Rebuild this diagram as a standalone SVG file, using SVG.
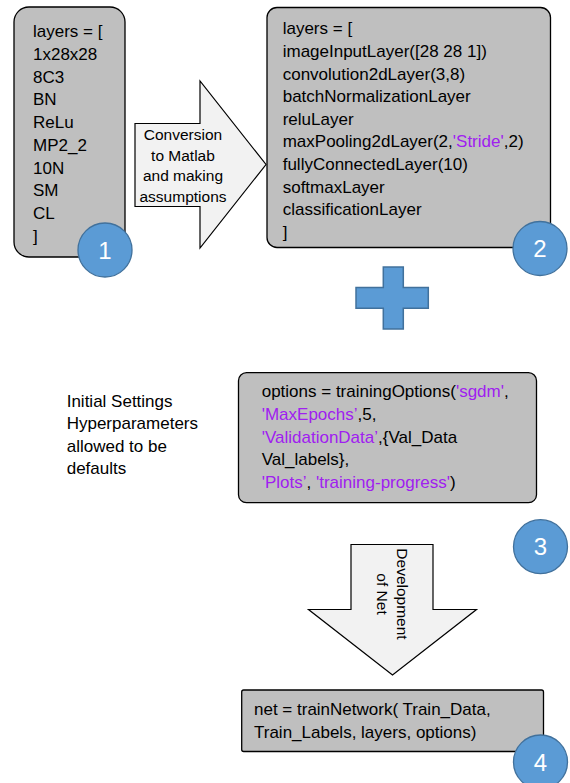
<svg xmlns="http://www.w3.org/2000/svg" width="570" height="783" viewBox="0 0 570 783">
<style>
.box{fill:#bfbfbf;stroke:#000;stroke-width:1.3}
.arrow{fill:#f2f2f2;stroke:#000;stroke-width:1.2}
.t{font-family:"Liberation Sans",Arial,sans-serif;font-size:17px;fill:#000}
.s{font-family:"Liberation Sans",Arial,sans-serif;font-size:15.5px;fill:#000}
.p{fill:#a020f0}
.badge{fill:#5b9bd5;stroke:#41719c;stroke-width:1.3}
.num{font-family:"Liberation Sans",Arial,sans-serif;font-size:24px;fill:#fff;text-anchor:middle}
.plus{fill:#5b9bd5;stroke:#41719c;stroke-width:1.5}
</style>
<rect width="570" height="783" fill="#fff"/>
<g id="connectors">
<path class="arrow" d="M135,123.5 L200,123.5 L200,81 L266,164.5 L200,248 L200,206.5 L135,206.5 Z"/>
<text class="s" text-anchor="middle"><tspan x="183" y="140">Conversion</tspan><tspan x="183" y="160.5">to Matlab</tspan><tspan x="183" y="181">and making</tspan><tspan x="183" y="201.5">assumptions</tspan></text>
<path class="arrow" d="M351,544.5 L433,544.5 L433,609.5 L476.5,609.5 L392.5,675 L308.5,609.5 L351,609.5 Z"/>
<text class="s" text-anchor="middle" transform="translate(397,594) rotate(90)">Development</text>
<text class="s" text-anchor="middle" transform="translate(376.5,594) rotate(90)">of Net</text>
</g>
<g id="node1">
<rect class="box" x="14" y="7" width="111" height="250" rx="15"/>
<text class="t"><tspan x="33" y="37.3">layers = [</tspan><tspan x="33" y="60">1x28x28</tspan><tspan x="33" y="82.7">8C3</tspan><tspan x="33" y="105.4">BN</tspan><tspan x="33" y="128.1">ReLu</tspan><tspan x="33" y="150.8">MP2_2</tspan><tspan x="33" y="173.5">10N</tspan><tspan x="33" y="196.2">SM</tspan><tspan x="33" y="218.9">CL</tspan><tspan x="33" y="241.6">]</tspan></text>
</g>
<g id="badge1">
<circle class="badge" cx="105" cy="250" r="27"/>
<text class="num" x="105" y="258.5">1</text>
</g>
<g id="node2">
<rect class="box" x="267" y="7.5" width="283.5" height="240" rx="10"/>
<text class="t"><tspan x="282.7" y="34.3">layers = [</tspan><tspan x="282.7" y="56.9">imageInputLayer([28 28 1])</tspan><tspan x="282.7" y="79.5">convolution2dLayer(3,8)</tspan><tspan x="282.7" y="102.1">batchNormalizationLayer</tspan><tspan x="282.7" y="124.7">reluLayer</tspan><tspan x="282.7" y="147.3">maxPooling2dLayer(2,<tspan class="p">'Stride'</tspan>,2)</tspan><tspan x="282.7" y="169.9">fullyConnectedLayer(10)</tspan><tspan x="282.7" y="192.5">softmaxLayer</tspan><tspan x="282.7" y="215.1">classificationLayer</tspan><tspan x="282.7" y="237.7">]</tspan></text>
</g>
<g id="badge2">
<circle class="badge" cx="540" cy="248.5" r="27"/>
<text class="num" x="540" y="257">2</text>
</g>
<g id="plus">
<path class="plus" d="M383.3,267 L403.3,267 L403.3,287.5 L428.3,287.5 L428.3,308.3 L403.3,308.3 L403.3,329 L383.3,329 L383.3,308.3 L356,308.3 L356,287.5 L383.3,287.5 Z"/>
</g>
<g id="settings">
<text class="t"><tspan x="66.7" y="406.7">Initial Settings</tspan><tspan x="66.7" y="429.2">Hyperparameters</tspan><tspan x="66.7" y="451.7">allowed to be</tspan><tspan x="66.7" y="474.2">defaults</tspan></text>
</g>
<g id="node3">
<rect class="box" x="238.5" y="372.7" width="298" height="130" rx="8"/>
<text class="t"><tspan x="261.7" y="397.3">options = trainingOptions(<tspan class="p">'sgdm'</tspan>,</tspan><tspan x="261.7" y="420"><tspan class="p">'MaxEpochs’</tspan>,5,</tspan><tspan x="261.7" y="442.7"><tspan class="p">'ValidationData’</tspan>,{Val_Data</tspan><tspan x="261.7" y="465.4">Val_labels},</tspan><tspan x="261.7" y="488.1"><tspan class="p">'Plots’</tspan>, <tspan class="p">'training-progress'</tspan>)</tspan></text>
</g>
<g id="badge3">
<circle class="badge" cx="540.5" cy="546.7" r="27"/>
<text class="num" x="540.5" y="555.2">3</text>
</g>
<g id="node4">
<rect class="box" x="241.7" y="690" width="301.8" height="61.5" rx="2"/>
<text class="t"><tspan x="254" y="715">net = trainNetwork( Train_Data,</tspan><tspan x="254" y="738.3">Train_Labels, layers, options)</tspan></text>
</g>
<g id="badge4">
<circle class="badge" cx="540.5" cy="762" r="27"/>
<text class="num" x="540.5" y="770.5">4</text>
</g>
</svg>
